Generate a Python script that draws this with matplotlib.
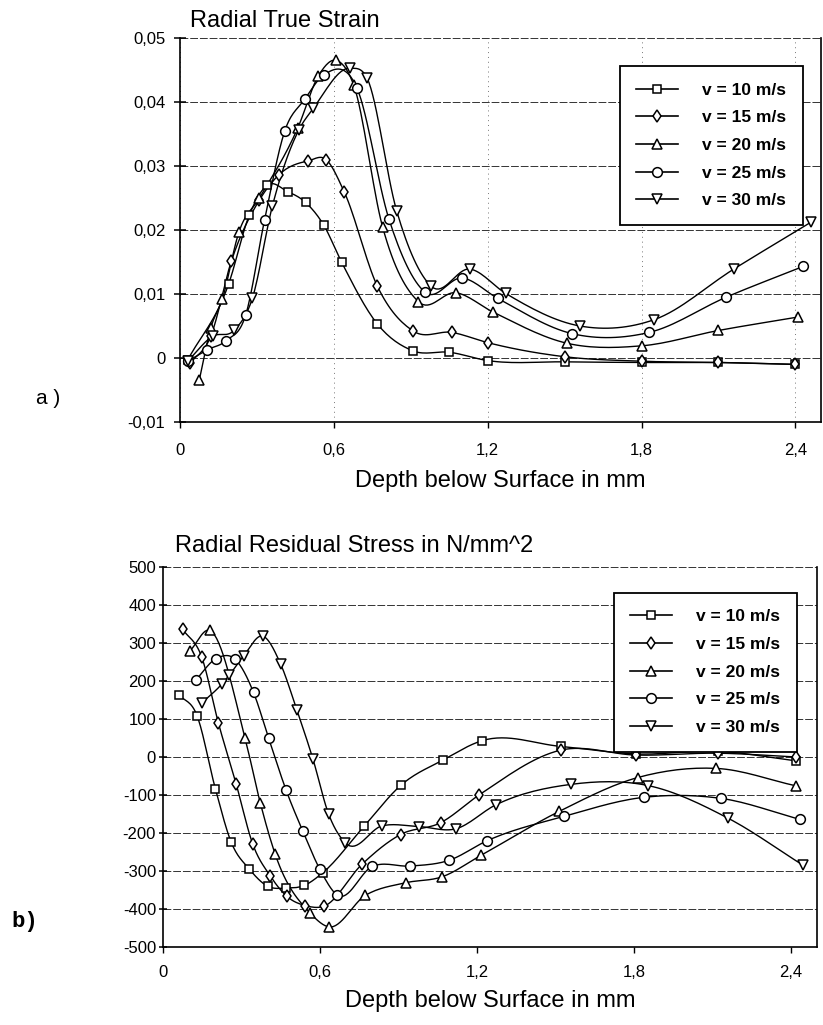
import numpy as np
import matplotlib
matplotlib.use('Agg')
import matplotlib.pyplot as plt
from matplotlib.lines import Line2D

plt.rcParams['font.family'] = 'Liberation Sans'

speeds = [10, 15, 20, 25, 30]
markers = ['s', 'd', '^', 'o', 'v']
marker_sizes = [6, 6.5, 7, 7, 7]

# a) radial true strain
a_depth_10 = [0.03, 0.19, 0.27, 0.34, 0.42, 0.49, 0.56, 0.63, 0.77, 0.91, 1.05, 1.2, 1.5, 1.8, 2.1, 2.4]
a_strain_10 = [-0.0003, 0.0116, 0.0223, 0.027, 0.026, 0.0243, 0.0208, 0.015, 0.0053, 0.0011, 0.0009,
               -0.0004, -0.0006, -0.0007, -0.0007, -0.001]
a_depth_15 = [0.04, 0.12, 0.2, 0.31, 0.385, 0.5, 0.57, 0.64, 0.77, 0.91, 1.06, 1.2, 1.5, 1.8, 2.1, 2.4]
a_strain_15 = [-0.0008, 0.0034, 0.0151, 0.0247, 0.0286, 0.0308, 0.031, 0.026, 0.0112, 0.0042, 0.004,
               0.0024, 0.0002, -0.0005, -0.0007, -0.001]
a_depth_20 = [0.075, 0.12, 0.165, 0.23, 0.31, 0.46, 0.54, 0.61, 0.677, 0.79, 0.93, 1.076, 1.22, 1.51, 1.8, 2.1, 2.41]
a_strain_20 = [-0.0035, 0.0047, 0.0092, 0.0197, 0.025, 0.036, 0.0441, 0.0465, 0.0427, 0.0205, 0.0088,
               0.0102, 0.0072, 0.0023, 0.0019, 0.0043, 0.0064]
a_depth_25 = [0.03, 0.107, 0.18, 0.256, 0.33, 0.408, 0.486, 0.56, 0.69, 0.815, 0.955, 1.1, 1.24, 1.53, 1.83, 2.13, 2.43]
a_strain_25 = [-0.0005, 0.0013, 0.0027, 0.0067, 0.0216, 0.0354, 0.0404, 0.0442, 0.0422, 0.0217, 0.0103,
               0.0125, 0.0093, 0.0038, 0.004, 0.0095, 0.0143]
a_depth_30 = [0.03, 0.127, 0.21, 0.282, 0.36, 0.463, 0.52, 0.664, 0.73, 0.845, 0.98, 1.13, 1.27, 1.56, 1.85, 2.16, 2.46]
a_strain_30 = [-0.0005, 0.0034, 0.0043, 0.0093, 0.0237, 0.0356, 0.039, 0.0453, 0.0437, 0.023, 0.0112,
               0.0139, 0.0101, 0.005, 0.006, 0.0139, 0.0212]

# b) radial residual stress
b_depth_10 = [0.06, 0.13, 0.2, 0.26, 0.33, 0.4, 0.47, 0.54, 0.61, 0.77, 0.91, 1.07, 1.22, 1.52, 1.81, 2.12, 2.42]
b_stress_10 = [164, 109, -83, -223, -295, -340, -345, -338, -305, -181, -74, -8, 43, 28, 8, 15, -10]
b_depth_15 = [0.075, 0.148, 0.212, 0.28, 0.343, 0.41, 0.474, 0.544, 0.614, 0.761, 0.908, 1.061, 1.208, 1.52, 1.81, 2.12, 2.42]
b_stress_15 = [336, 263, 89, -72, -229, -313, -367, -391, -393, -282, -204, -173, -100, 18, 5, 10, 0]
b_depth_20 = [0.103, 0.18, 0.314, 0.372, 0.429, 0.563, 0.633, 0.774, 0.927, 1.068, 1.215, 1.515, 1.815, 2.115, 2.42]
b_stress_20 = [279, 333, 49, -121, -256, -411, -447, -364, -331, -315, -259, -143, -54, -30, -76]
b_depth_25 = [0.126, 0.203, 0.276, 0.346, 0.404, 0.471, 0.535, 0.6, 0.665, 0.8, 0.946, 1.093, 1.24, 1.534, 1.84, 2.134, 2.434]
b_stress_25 = [203, 259, 257, 170, 49, -88, -196, -296, -363, -288, -287, -272, -220, -156, -106, -109, -164]
b_depth_30 = [0.148, 0.225, 0.254, 0.308, 0.382, 0.45, 0.512, 0.573, 0.633, 0.697, 0.838, 0.978, 1.119, 1.272,
              1.56, 1.853, 2.16, 2.447]
b_stress_30 = [142, 192, 216, 266, 318, 244, 123, -5, -150, -226, -181, -183, -189, -126, -72, -75, -161, -285]

x_ticks = [0, 0.6, 1.2, 1.8, 2.4]
x_tick_labels = ['0', '0,6', '1,2', '1,8', '2,4']
a_ticks = [-0.01, 0, 0.01, 0.02, 0.03, 0.04, 0.05]
a_tick_labels = ['-0,01', '0', '0,01', '0,02', '0,03', '0,04', '0,05']
b_ticks = [-500, -400, -300, -200, -100, 0, 100, 200, 300, 400, 500]
b_tick_labels = [str(t) for t in b_ticks]


def smooth(x, y, n=16):
    # cubic hermite through the points, just for drawing the curve
    x = np.asarray(x, float)
    y = np.asarray(y, float)
    h = np.diff(x)
    d = np.diff(y) / h
    m = np.empty_like(y)
    m[0], m[-1] = d[0], d[-1]
    m[1:-1] = (d[:-1] * h[1:] + d[1:] * h[:-1]) / (h[:-1] + h[1:])
    t = np.linspace(0, 1, n, endpoint=False)
    xs, ys = [], []
    for i in range(len(h)):
        h00 = 2 * t**3 - 3 * t**2 + 1
        h10 = t**3 - 2 * t**2 + t
        h01 = -2 * t**3 + 3 * t**2
        h11 = t**3 - t**2
        xs.append(x[i] + t * h[i])
        ys.append(h00 * y[i] + h10 * h[i] * m[i] + h01 * y[i + 1] + h11 * h[i] * m[i + 1])
    xs.append([x[-1]])
    ys.append([y[-1]])
    return np.concatenate(xs), np.concatenate(ys)


fig = plt.figure(figsize=(8.23, 10.25), dpi=100)
ax_a = fig.add_axes([180 / 823, 1 - 422 / 1025, 641 / 823, 384 / 1025])
ax_b = fig.add_axes([163 / 823, 1 - 947 / 1025, 654 / 823, 380 / 1025])

series_a = [(a_depth_10, a_strain_10), (a_depth_15, a_strain_15), (a_depth_20, a_strain_20),
            (a_depth_25, a_strain_25), (a_depth_30, a_strain_30)]
series_b = [(b_depth_10, b_stress_10), (b_depth_15, b_stress_15), (b_depth_20, b_stress_20),
            (b_depth_25, b_stress_25), (b_depth_30, b_stress_30)]

for ax, series in [(ax_a, series_a), (ax_b, series_b)]:
    for (x, y), m, ms in zip(series, markers, marker_sizes):
        xs, ys = smooth(x, y)
        ax.plot(xs, ys, '-', color='k', lw=1.0, zorder=3)
        ax.plot(x, y, ls='none', marker=m, ms=ms, mfc='white', mec='k', mew=1.1, zorder=4)

    ax.set_xlim(0, 2.5)
    ax.set_xticks(x_ticks)
    ax.set_xticklabels(x_tick_labels)
    ax.spines['top'].set_visible(False)
    for s in ['left', 'bottom', 'right']:
        ax.spines[s].set_linewidth(1.2)
    ax.grid(axis='y', color='#333333', lw=0.7, linestyle=(0, (8, 2)), zorder=1)

    handles = [Line2D([], [], color='k', lw=1.2, marker=m, ms=ms, mfc='white', mec='k', mew=1.1)
               for m, ms in zip(markers, marker_sizes)]
    labels = [f'v = {s} m/s' for s in speeds]
    anchor = (0.972, 0.927) if ax is ax_a else (0.969, 0.932)
    leg = ax.legend(handles, labels, loc='upper right', bbox_to_anchor=anchor, borderaxespad=0,
                    prop={'family': 'Liberation Sans', 'weight': 'bold', 'size': 12.5},
                    handlelength=2.4, handletextpad=1.4, labelspacing=0.72, borderpad=0.95,
                    fancybox=False, framealpha=1, edgecolor='k')
    leg.get_frame().set_linewidth(1.3)
    leg.set_zorder(6)

ax_a.set_ylim(-0.01, 0.05)
ax_a.set_yticks(a_ticks)
ax_a.set_yticklabels(a_tick_labels)
ax_a.grid(axis='x', color='#777777', lw=0.7, linestyle=(0, (1, 4)), zorder=1)
ax_a.tick_params(axis='y', direction='inout', length=9, width=1.1, pad=6, labelsize=12)
ax_a.tick_params(axis='x', direction='out', length=4, width=1.0, pad=11, labelsize=12)

ax_b.set_ylim(-500, 500)
ax_b.set_yticks(b_ticks)
ax_b.set_yticklabels(b_tick_labels)
ax_b.tick_params(axis='y', direction='inout', length=6, width=1.1, pad=2, labelsize=12)
ax_b.tick_params(axis='x', direction='out', length=4, width=1.0, pad=9, labelsize=12)

fig.text(190 / 823, 1 - 27 / 1025, 'Radial True Strain', fontsize=17, ha='left', va='baseline')
fig.text(500 / 823, 1 - 487 / 1025, 'Depth below Surface in mm', fontsize=17, ha='center', va='baseline')
fig.text(175 / 823, 1 - 552 / 1025, 'Radial Residual Stress in N/mm^2', fontsize=17, ha='left', va='baseline')
fig.text(490 / 823, 1 - 1007 / 1025, 'Depth below Surface in mm', fontsize=17, ha='center', va='baseline')
fig.text(48 / 823, 1 - 398 / 1025, 'a )', fontsize=15, ha='center', va='center')
fig.text(25 / 823, 1 - 922 / 1025, 'b)', fontsize=16, ha='center', va='center',
         family='Liberation Mono', weight='bold')

fig.savefig('out.png', dpi=100)
